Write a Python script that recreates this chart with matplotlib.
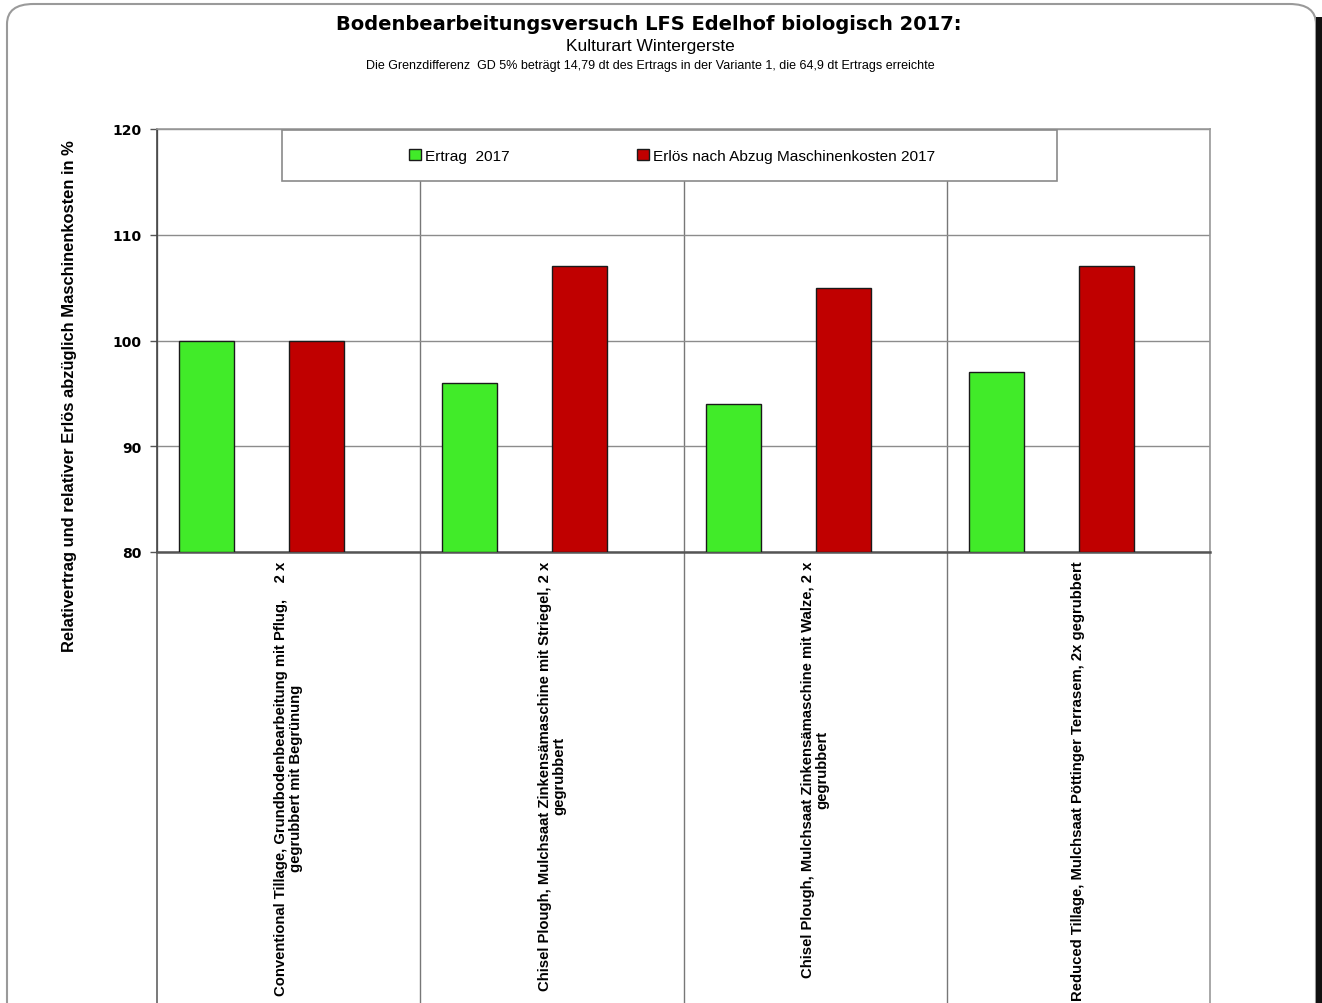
import matplotlib
matplotlib.use("Agg")
import matplotlib.pyplot as plt
from matplotlib.patches import Rectangle, FancyBboxPatch
import numpy as np

categories = [
    "Conventional Tillage, Grundbodenbearbeitung mit Pflug,    2 x\ngegrubbert mit Begrünung",
    "Chisel Plough, Mulchsaat Zinkensämaschine mit Striegel, 2 x\ngegrubbert",
    "Chisel Plough, Mulchsaat Zinkensämaschine mit Walze, 2 x\ngegrubbert",
    "Reduced Tillage, Mulchsaat Pöttinger Terrasem, 2x gegrubbert",
]
ertrag = [100, 96, 94, 97]
erloes = [100, 107, 105, 107]
series_names = ["Ertrag  2017", "Erlös nach Abzug Maschinenkosten 2017"]
yticks = [80, 90, 100, 110, 120]

title = "Bodenbearbeitungsversuch LFS Edelhof biologisch 2017:"
subtitle = "Kulturart Wintergerste"
note = "Die Grenzdifferenz  GD 5% beträgt 14,79 dt des Ertrags in der Variante 1, die 64,9 dt Ertrags erreichte"
ylabel = "Relativertrag und relativer Erlös abzüglich Maschinenkosten in %"

GREEN = "#41EB29"
RED = "#C00000"
GRID = "#8c8c8c"

W, H = 1322, 1004
fig = plt.figure(figsize=(W / 100, H / 100), dpi=100)
fig.patch.set_facecolor("white")

# outer frame
frame = FancyBboxPatch((7 / W, -0.05), 1309 / W, (H - 5) / H + 0.05,
                       boxstyle="round,pad=0,rounding_size=0.02",
                       transform=fig.transFigure, fill=False,
                       edgecolor="#9a9a9a", linewidth=1.5, zorder=0)
fig.patches.append(frame)
fig.patches.append(Rectangle((1316 / W, 0), 6 / W, (H - 18) / H,
                             transform=fig.transFigure, facecolor="#111111",
                             edgecolor="none", zorder=0))

left, right, top, bottom = 157, 1210, 130, 553
ax = fig.add_axes([left / W, (H - bottom) / H, (right - left) / W, (bottom - top) / H])
lower = fig.add_axes([left / W, 0, (right - left) / W, (H - bottom) / H], zorder=-1)

n = len(categories)
x = np.arange(n)
bw = 55 / 263
off_g = 49.5 / 263
off_r = 159.5 / 263

ax.bar(x + off_g, [v - 80 for v in ertrag], bottom=80, width=bw, color=GREEN,
       edgecolor="#1a1a1a", linewidth=1.0, zorder=3, label=series_names[0])
ax.bar(x + off_r, [v - 80 for v in erloes], bottom=80, width=bw, color=RED,
       edgecolor="#1a1a1a", linewidth=1.0, zorder=3, label=series_names[1])

ax.set_xlim(0, n)
ax.set_ylim(80, 120)
ax.set_yticks(yticks)
ax.set_yticklabels([str(t) for t in yticks], fontsize=10, fontweight="bold",
                   family="DejaVu Sans")
ax.yaxis.grid(True, color=GRID, linewidth=1.0, zorder=0)
ax.set_xticks(x + 0.5)
ax.set_xticklabels(categories, rotation=90, ha="center", va="top",
                   multialignment="center", fontsize=10.7, fontweight="bold",
                   family="Liberation Sans", linespacing=1.05)
ax.set_xticks(np.arange(n + 1), minor=True)
ax.xaxis.grid(True, which="minor", color="#777777", linewidth=1.0, zorder=0)
ax.tick_params(axis="x", which="both", length=0, pad=6)
ax.tick_params(axis="y", length=5, width=1, color="#555555", pad=6)
ax.set_axisbelow(True)

for s in ["top", "right"]:
    ax.spines[s].set_color("#999999")
    ax.spines[s].set_linewidth(1.2)
ax.spines["left"].set_color("#444444")
ax.spines["left"].set_linewidth(1.2)
ax.spines["bottom"].set_color("#555555")
ax.spines["bottom"].set_linewidth(1.8)

ax.set_ylabel(ylabel, fontsize=11.9, fontweight="bold", family="Liberation Sans")
ax.yaxis.set_label_coords(-(157 - 77) / (right - left), (553 - 396) / 423)

# legend box
ax.add_patch(Rectangle(((282 - left) / (right - left), (bottom - 182) / (bottom - top)),
                       (1057 - 282) / (right - left), (182 - 131) / (bottom - top),
                       transform=ax.transAxes, facecolor="white", edgecolor="#8a8a8a",
                       linewidth=1.2, zorder=5, clip_on=False))
leg = ax.legend(loc="center", bbox_to_anchor=((672 - left) / (right - left), (bottom - 157) / (bottom - top)),
                ncol=2, frameon=False, handlelength=0.75, handleheight=0.75,
                handletextpad=0.25, columnspacing=8.3,
                prop={"family": "Liberation Sans", "size": 11.1})
leg.set_zorder(6)

# lower label area
lower.set_xlim(0, n)
lower.set_ylim(0, 1)
lower.set_xticks([])
lower.set_yticks([])
lower.patch.set_alpha(0)
for s in ["top", "bottom"]:
    lower.spines[s].set_visible(False)
lower.spines["left"].set_color("#555555")
lower.spines["left"].set_linewidth(1.1)
lower.spines["right"].set_color("#999999")
lower.spines["right"].set_linewidth(1.2)
lower.vlines(np.arange(1, n), 0, 1, color="#777777", linewidth=1.0)

fig.text(649 / W, 1 - 24 / H, title, ha="center", va="center", fontsize=14,
         fontweight="bold", family="DejaVu Sans")
fig.text(650 / W, 1 - 47 / H, subtitle, ha="center", va="center", fontsize=12.5,
         family="Liberation Sans")
fig.text(650 / W, 1 - 65.5 / H, note, ha="center", va="center", fontsize=9,
         family="Liberation Sans")

fig.savefig("out.png", dpi=100)
